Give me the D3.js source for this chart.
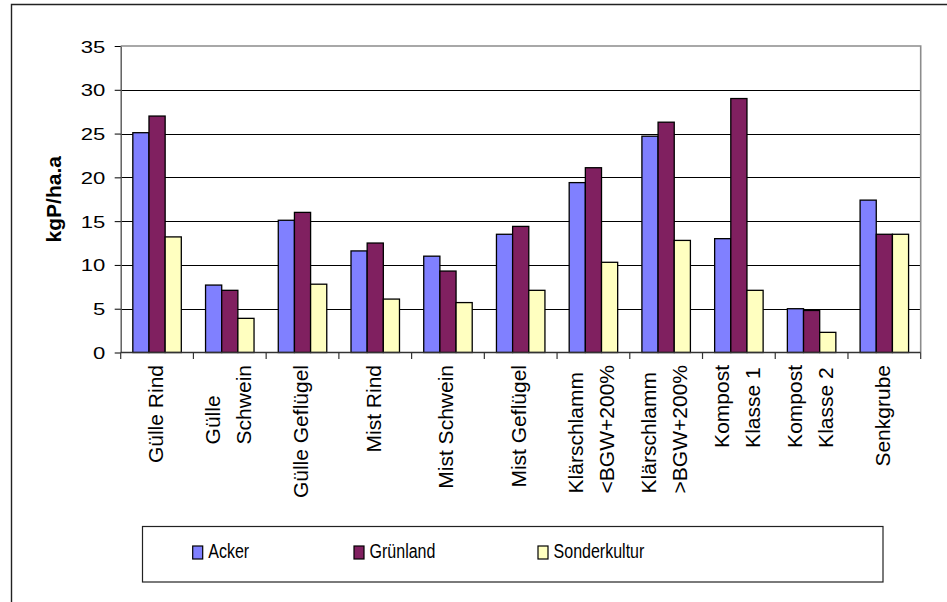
<!DOCTYPE html>
<html><head><meta charset="utf-8">
<script src="https://cdn.jsdelivr.net/npm/d3@7"></script>
<style>body{margin:0;background:#fff} svg{display:block}</style>
</head><body><svg id="c" width="947" height="602"></svg>
<script>
const categories = [["Gülle Rind"],["Gülle","Schwein"],["Gülle Geflügel"],["Mist Rind"],["Mist Schwein"],["Mist Geflügel"],["Klärschlamm","<BGW+200%"],["Klärschlamm",">BGW+200%"],["Kompost","Klasse 1"],["Kompost","Klasse 2"],["Senkgrube"]];
const seriesNames = ["Acker","Grünland","Sonderkultur"];
const acker = [25.1, 7.7, 15.1, 11.6, 11.0, 13.5, 19.4, 24.7, 13.0, 5.0, 17.4];
const gruenland = [27.0, 7.1, 16.0, 12.5, 9.3, 14.4, 21.1, 26.3, 29.0, 4.8, 13.5];
const sonderkultur = [13.2, 3.9, 7.8, 6.1, 5.7, 7.1, 10.3, 12.8, 7.1, 2.3, 13.5];
const yTicks = [0, 5, 10, 15, 20, 25, 30, 35];
const yTitle = "kgP/ha.a";
const colors = ["#8080ff", "#802060", "#ffffc0"];

(function () {
const values = [acker, gruenland, sonderkultur];
const keys = categories.map(c => c.join(" "));
const font = "'Liberation Sans', Arial, Helvetica, sans-serif";
const svg = d3.select("#c");
svg.append("rect").attr("width", 947).attr("height", 602).attr("fill", "#fff");

// outer chart frame
svg.append("path").attr("d", "M960,4.5H11.5V620").attr("fill", "none").attr("stroke", "#222").attr("stroke-width", 1.4);

const pL = 120.7, pR = 920.7, pT = 46, pB = 352.5;
const x0 = d3.scaleBand().domain(keys).range([pL, pR]);
const x1 = d3.scaleBand().domain(seriesNames).range([0, x0.bandwidth()]).paddingInner(0).paddingOuter(0.75);
const y = d3.scaleLinear().domain([0, 35]).range([pB, pT]);

// gridlines
svg.append("g").selectAll("line").data(yTicks.filter(v => v > 0 && v < 35)).join("line")
  .attr("x1", pL).attr("x2", pR)
  .attr("y1", d => Math.round(y(d)) + 0.5).attr("y2", d => Math.round(y(d)) + 0.5)
  .attr("stroke", "#000").attr("stroke-width", 1);

// plot border (top & right)
svg.append("path").attr("d", `M${pL},${pT}H${pR}V${pB}`).attr("fill", "none").attr("stroke", "#8c8c8c").attr("stroke-width", 1.6);

// bars
const gBars = svg.append("g");
categories.forEach((c, i) => {
  seriesNames.forEach((s, j) => {
    const v = values[j][i];
    gBars.append("rect")
      .attr("x", x0(keys[i]) + x1(s))
      .attr("y", y(v))
      .attr("width", x1.bandwidth())
      .attr("height", y(0) - y(v))
      .attr("fill", colors[j])
      .attr("stroke", "#000").attr("stroke-width", 1.3);
  });
});

// y axis
const yAxis = d3.axisLeft(y).tickValues(yTicks).tickSize(6).tickSizeOuter(0).tickFormat(d3.format("d"));
const gy = svg.append("g").attr("transform", `translate(${pL},0)`).call(yAxis);
gy.attr("font-size", null).attr("font-family", null);
gy.select(".domain").attr("stroke", "#555").attr("stroke-width", 1.4);
gy.selectAll(".tick line").attr("stroke", "#000");
gy.selectAll(".tick text").attr("x", 0).attr("dy", null)
  .attr("transform", "translate(-15.5,6) scale(1.3,1)")
  .attr("font-size", 17).attr("font-family", font).attr("fill", "#000");

// x axis line and boundary ticks
svg.append("line").attr("x1", pL).attr("x2", pR).attr("y1", pB).attr("y2", pB).attr("stroke", "#333").attr("stroke-width", 1.4);
const bounds = keys.map(k => x0(k)).concat([x0.range()[1]]);
svg.append("g").selectAll("line").data(bounds).join("line")
  .attr("x1", d => d).attr("x2", d => d).attr("y1", pB).attr("y2", pB + 6.5)
  .attr("stroke", "#333").attr("stroke-width", 1.2);

// category labels (rotated, lines share their starting point)
categories.forEach((lines, i) => {
  const cx = x0(keys[i]) + x0.bandwidth() / 2;
  const g = svg.append("g").attr("transform", `translate(${cx},365) rotate(-90)`);
  const n = lines.length;
  const texts = lines.map((t, j) => g.append("text").text(t)
    .attr("font-family", font).attr("font-size", 21).attr("fill", "#000")
    .attr("text-anchor", "start")
    .attr("y", 5.5 + (j - (n - 1) / 2) * 31));
  const L = d3.max(texts, t => t.node().getComputedTextLength());
  texts.forEach(t => t.attr("x", -L));
});

// y title
svg.append("text").text(yTitle)
  .attr("transform", `translate(60.7,${(pT + pB) / 2}) rotate(-90)`)
  .attr("text-anchor", "middle").attr("font-family", font).attr("font-weight", "bold")
  .attr("font-size", 21).attr("fill", "#000");

// legend
svg.append("rect").attr("x", 142.5).attr("y", 526.5).attr("width", 740.5).attr("height", 55.5)
  .attr("fill", "#fff").attr("stroke", "#222").attr("stroke-width", 1.2);
const legendX = [192.7, 354, 538];
seriesNames.forEach((s, j) => {
  svg.append("rect").attr("x", legendX[j]).attr("y", 546).attr("width", 10).attr("height", 13)
    .attr("fill", colors[j]).attr("stroke", "#000").attr("stroke-width", 1.2);
  svg.append("text").text(s)
    .attr("transform", `translate(${legendX[j] + 15.6},558.3) scale(0.8,1)`)
    .attr("font-family", font).attr("font-size", 20).attr("fill", "#000");
});
})();
</script></body></html>
